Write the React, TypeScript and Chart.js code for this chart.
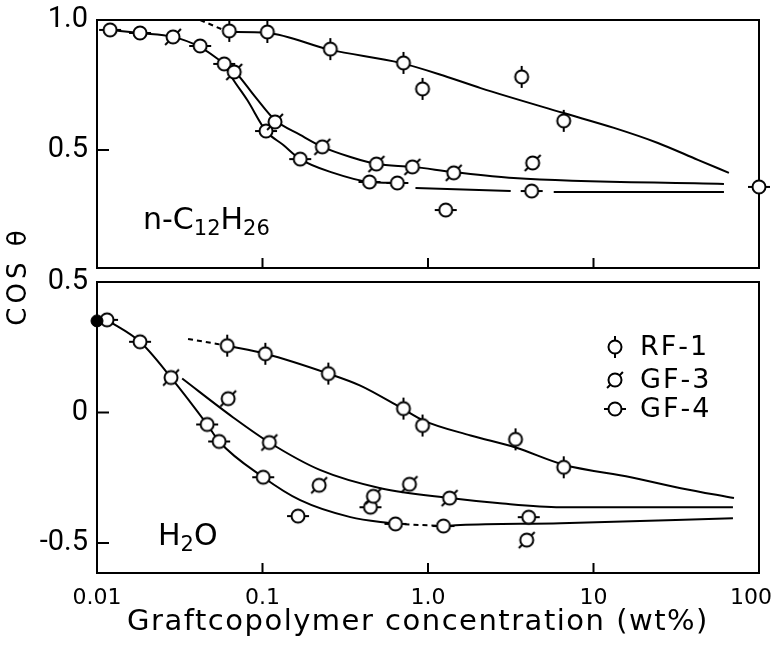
import React, { useEffect, useRef } from 'react';
import { Chart, registerables } from 'chart.js';

Chart.register(...registerables);

const FONT = "'DejaVu Sans', sans-serif";
const TICK_FONT = "Roboto, 'DejaVu Sans', sans-serif";

// ---- axes ----
const xTickValues = [0.01, 0.1, 1, 10, 100];
const xTickLabels = ['0.01', '0.1', '1.0', '10', '100'];
const xInnerTicks = [0.1, 1, 10];
const topYTickValues = [0.5, 1.0];
const topYTickLabels = ['0.5', '1.0'];
const bottomYTickValues = [-0.5, 0, 0.5];
const bottomYTickLabels = ['-0.5', '0', '0.5'];
const xTitle = 'Graftcopolymer concentration (wt%)';
const yTitle = 'COS θ';
const legendLabels = ['RF-1', 'GF-3', 'GF-4'];

// ---- top panel: n-C12H26 ----
const topRF1X = [0.063, 0.107, 0.257, 0.711, 0.927, 3.68, 6.61];
const topRF1Y = [0.958, 0.954, 0.888, 0.835, 0.735, 0.781, 0.612];
const topGF3X = [0.0288, 0.0675, 0.119, 0.23, 0.488, 0.805, 1.43, 4.29];
const topGF3Y = [0.935, 0.8, 0.608, 0.512, 0.446, 0.435, 0.412, 0.45];
const topGF4X = [0.012, 0.0182, 0.042, 0.0587, 0.105, 0.169, 0.443, 0.653, 1.28, 4.23, 100];
const topGF4Y = [0.962, 0.95, 0.9, 0.831, 0.573, 0.465, 0.377, 0.373, 0.269, 0.342, 0.358];

// fitted curves (top)
const topRF1DashX = [0.042, 0.062];
const topRF1DashY = [1.0, 0.954];
const topRF1FitX = [0.062, 0.107, 0.257, 0.683, 1.31, 2.08, 6.61, 13.3, 24.5, 42.7, 65.8];
const topRF1FitY = [0.954, 0.95, 0.885, 0.835, 0.781, 0.738, 0.642, 0.585, 0.527, 0.462, 0.412];
const topGF3FitX = [0.012, 0.0182, 0.0288, 0.042, 0.0579, 0.0684, 0.0904, 0.119, 0.169, 0.23, 0.34, 0.488, 0.805, 1.43, 3.29, 61.4];
const topGF3FitY = [0.962, 0.95, 0.935, 0.896, 0.835, 0.8, 0.704, 0.615, 0.558, 0.512, 0.473, 0.446, 0.435, 0.415, 0.392, 0.369];
const topGF4FitX = [0.0587, 0.0656, 0.0809, 0.105, 0.1336, 0.169, 0.268, 0.443, 0.653, 0.75, 0.84, 3.16, 4.2, 5.75, 61.4];
const topGF4FitY = [0.831, 0.777, 0.692, 0.573, 0.519, 0.465, 0.412, 0.377, 0.373, null, 0.354, 0.342, null, 0.338, 0.338];

// ---- bottom panel: H2O ----
const botRF1X = [0.0612, 0.104, 0.25, 0.711, 0.927, 3.38, 6.61];
const botRF1Y = [0.256, 0.225, 0.149, 0.015, -0.05, -0.103, -0.21];
const botGF3X = [0.028, 0.062, 0.11, 0.22, 0.468, 0.773, 1.35, 3.95];
const botGF3Y = [0.134, 0.053, -0.115, -0.279, -0.321, -0.275, -0.328, -0.489];
const botGF4X = [0.0115, 0.0182, 0.0463, 0.0547, 0.101, 0.164, 0.449, 0.636, 1.24, 4.06];
const botGF4Y = [0.355, 0.271, -0.046, -0.111, -0.248, -0.397, -0.363, -0.427, -0.435, -0.401];
const pureWaterX = [0.01];
const pureWaterY = [0.351];

// fitted curves (bottom)
const botRF1DashX = [0.0355, 0.0612];
const botRF1DashY = [0.282, 0.256];
const botRF1FitX = [0.0612, 0.104, 0.25, 0.39, 0.682, 0.94, 1.81, 3.38, 6.61, 16.8, 33.7, 70.6];
const botRF1FitY = [0.256, 0.225, 0.149, 0.103, 0.019, -0.031, -0.088, -0.134, -0.2, -0.248, -0.29, -0.328];
const botGF3FitX = [0.0327, 0.0665, 0.11, 0.224, 0.516, 1.35, 2.63, 6.33, 69.6];
const botGF3FitY = [0.13, -0.019, -0.115, -0.221, -0.29, -0.328, -0.347, -0.363, -0.363];
const botGF4FitX = [0.0115, 0.0182, 0.028, 0.0463, 0.0547, 0.101, 0.169, 0.34, 0.636];
const botGF4FitY = [0.355, 0.271, 0.134, -0.046, -0.111, -0.248, -0.336, -0.401, -0.427];
const botGF4DashX = [0.636, 1.24];
const botGF4DashY = [-0.427, -0.435];
const botGF4Fit2X = [1.24, 1.57, 6.33, 69.6];
const botGF4Fit2Y = [-0.435, -0.431, -0.424, -0.405];

const pts = (xs: number[], ys: (number | null)[]) => xs.map((x, i) => ({ x, y: ys[i] }));

type Kind = 'v' | 'd' | 'h';
function makeMarker(kind: Kind): HTMLCanvasElement {
  const c = document.createElement('canvas');
  c.width = 28;
  c.height = 28;
  const g = c.getContext('2d')!;
  const cx = 14, cy = 14, r = 6.5, L = 11;
  g.strokeStyle = '#000';
  g.lineWidth = 2;
  g.beginPath();
  if (kind === 'v') {
    g.moveTo(cx, cy - L);
    g.lineTo(cx, cy + L);
  } else if (kind === 'h') {
    g.moveTo(cx - L, cy);
    g.lineTo(cx + L, cy);
  } else {
    const d = L * 0.72;
    g.moveTo(cx - d, cy + d);
    g.lineTo(cx + d, cy - d);
  }
  g.stroke();
  g.beginPath();
  g.arc(cx, cy, r, 0, Math.PI * 2);
  g.fillStyle = '#fff';
  g.fill();
  g.stroke();
  return c;
}

function framePlugin(yTicks: number[]) {
  return {
    id: 'frame',
    beforeDatasetsDraw(chart: any) {
      const { ctx, chartArea: a, scales } = chart;
      ctx.save();
      ctx.strokeStyle = '#000';
      ctx.lineWidth = 2;
      ctx.strokeRect(a.left, a.top, a.right - a.left, a.bottom - a.top);
      ctx.beginPath();
      xInnerTicks.forEach((v) => {
        const px = scales.x.getPixelForValue(v);
        ctx.moveTo(px, a.bottom);
        ctx.lineTo(px, a.bottom - 10);
      });
      yTicks.forEach((v) => {
        const py = scales.y.getPixelForValue(v);
        if (py > a.top + 2 && py < a.bottom - 2) {
          ctx.moveTo(a.left, py);
          ctx.lineTo(a.left + 12, py);
        }
      });
      ctx.stroke();
      ctx.restore();
    },
  };
}

function solventPlugin(parts: [string, boolean][], x: number, y: number) {
  return {
    id: 'solvent',
    afterDatasetsDraw(chart: any) {
      const ctx = chart.ctx;
      ctx.save();
      ctx.fillStyle = '#000';
      ctx.textAlign = 'left';
      ctx.textBaseline = 'alphabetic';
      let cx = x;
      parts.forEach(([t, sub]) => {
        ctx.font = `${sub ? 21 : 30}px ${FONT}`;
        ctx.fillText(t, cx, y + (sub ? 6 : 0));
        cx += ctx.measureText(t).width;
      });
      ctx.restore();
    },
  };
}

function legendPlugin(markers: HTMLCanvasElement[]) {
  const rowsY = [107, 140, 169];
  return {
    id: 'customLegend',
    afterDatasetsDraw(chart: any) {
      const ctx = chart.ctx;
      ctx.save();
      ctx.fillStyle = '#000';
      ctx.font = `27px ${FONT}`;
      (ctx as any).letterSpacing = '2px';
      ctx.textAlign = 'left';
      ctx.textBaseline = 'middle';
      legendLabels.forEach((lab, i) => {
        const m = markers[i];
        ctx.drawImage(m, 615 - m.width / 2, rowsY[i] - m.height / 2);
        ctx.fillText(lab, 640, rowsY[i] + 1);
      });
      ctx.restore();
    },
  };
}

// x tick labels and axis title for the bottom panel
const xAxisTextPlugin = {
  id: 'xAxisText',
  afterDraw(chart: any) {
    const { ctx, scales, chartArea: a } = chart;
    ctx.save();
    ctx.fillStyle = '#000';
    ctx.textBaseline = 'alphabetic';
    ctx.textAlign = 'center';
    ctx.font = `22px ${FONT}`;
    xTickValues.forEach((v, i) => {
      const t = xTickLabels[i];
      const w = ctx.measureText(t).width;
      let px = scales.x.getPixelForValue(v);
      px = Math.min(px, chart.width - 5 - w / 2);
      ctx.fillText(t, px, a.bottom + 31);
    });
    ctx.font = `29px ${FONT}`;
    (ctx as any).letterSpacing = '1.5px';
    ctx.fillText(xTitle, 418, a.bottom + 57);
    ctx.restore();
  },
};

function pointSet(label: string, xs: number[], ys: number[], marker: any) {
  return {
    label,
    data: pts(xs, ys),
    showLine: false,
    pointStyle: marker,
    pointRadius: 6,
    clip: false,
    order: 1,
  };
}

function lineSet(label: string, xs: number[], ys: (number | null)[], dashed = false) {
  return {
    label,
    data: pts(xs, ys),
    borderColor: '#000',
    borderWidth: 2,
    borderDash: dashed ? [5, 4] : [],
    pointRadius: 0,
    cubicInterpolationMode: 'monotone',
    spanGaps: false,
    fill: false,
    order: 2,
  };
}

function yScale(min: number, max: number, vals: number[], labels: string[]) {
  return {
    min,
    max,
    grid: { display: false, drawTicks: false },
    border: { display: false },
    afterBuildTicks: (s: any) => {
      s.ticks = vals.map((v) => ({ value: v }));
    },
    afterFit: (s: any) => {
      s.width = 97;
      s.paddingTop = 0;
      s.paddingBottom = 0;
    },
    ticks: {
      callback: (_v: any, i: number) => labels[i],
      font: { family: TICK_FONT, size: 29 },
      color: '#000',
      padding: 9,
    },
  };
}

export default function App() {
  const topRef = useRef<HTMLCanvasElement>(null);
  const botRef = useRef<HTMLCanvasElement>(null);

  useEffect(() => {
    const mV = makeMarker('v');
    const mD = makeMarker('d');
    const mH = makeMarker('h');

    const top = new Chart(topRef.current!, {
      type: 'line',
      data: {
        datasets: [
          pointSet('RF-1', topRF1X, topRF1Y, mV),
          pointSet('GF-3', topGF3X, topGF3Y, mD),
          pointSet('GF-4', topGF4X, topGF4Y, mH),
          lineSet('RF-1 fit (extrapolated)', topRF1DashX, topRF1DashY, true),
          lineSet('RF-1 fit', topRF1FitX, topRF1FitY),
          lineSet('GF-3 fit', topGF3FitX, topGF3FitY),
          lineSet('GF-4 fit', topGF4FitX, topGF4FitY),
        ] as any,
      },
      options: {
        animation: false,
        responsive: false,
        events: [],
        layout: { padding: { left: 0, right: 18, top: 20, bottom: 9 } },
        plugins: { legend: { display: false }, tooltip: { enabled: false } },
        scales: {
          x: { type: 'logarithmic', min: 0.01, max: 100, display: false },
          y: yScale(0.046, 1.0, topYTickValues, topYTickLabels),
        } as any,
      },
      plugins: [framePlugin(topYTickValues), solventPlugin([['n-C', false], ['12', true], ['H', false], ['26', true]], 143, 229)],
    });

    const bot = new Chart(botRef.current!, {
      type: 'line',
      data: {
        datasets: [
          {
            label: 'pure water',
            data: pts(pureWaterX, pureWaterY),
            showLine: false,
            pointStyle: 'circle',
            pointRadius: 6,
            pointBackgroundColor: '#000',
            pointBorderColor: '#000',
            clip: false,
            order: 0,
          },
          pointSet('RF-1', botRF1X, botRF1Y, mV),
          pointSet('GF-3', botGF3X, botGF3Y, mD),
          pointSet('GF-4', botGF4X, botGF4Y, mH),
          lineSet('RF-1 fit (extrapolated)', botRF1DashX, botRF1DashY, true),
          lineSet('RF-1 fit', botRF1FitX, botRF1FitY),
          lineSet('GF-3 fit', botGF3FitX, botGF3FitY),
          lineSet('GF-4 fit', botGF4FitX, botGF4FitY),
          lineSet('GF-4 fit (dashed)', botGF4DashX, botGF4DashY, true),
          lineSet('GF-4 fit (cont.)', botGF4Fit2X, botGF4Fit2Y),
        ] as any,
      },
      options: {
        animation: false,
        responsive: false,
        events: [],
        layout: { padding: { left: 0, right: 18, top: 42, bottom: 0 } },
        plugins: { legend: { display: false }, tooltip: { enabled: false } },
        scales: {
          x: {
            type: 'logarithmic',
            min: 0.01,
            max: 100,
            grid: { display: false, drawTicks: false },
            border: { display: false },
            afterBuildTicks: (s: any) => {
              s.ticks = xTickValues.map((v) => ({ value: v }));
            },
            afterFit: (s: any) => {
              s.height = 74;
              s.paddingLeft = 0;
              s.paddingRight = 0;
            },
            ticks: { display: false },
            title: { display: false, text: xTitle },
          },
          y: yScale(-0.615, 0.5, bottomYTickValues, bottomYTickLabels),
        } as any,
      },
      plugins: [
        framePlugin(bottomYTickValues),
        solventPlugin([['H', false], ['2', true], ['O', false]], 158, 305),
        legendPlugin([mV, mD, mH]),
        xAxisTextPlugin,
      ],
    });

    return () => {
      top.destroy();
      bot.destroy();
    };
  }, []);

  return (
    <div style={{ position: 'absolute', left: 0, top: 0, width: 777, height: 647, background: '#fff' }}>
      <canvas ref={topRef} width={777} height={277} style={{ position: 'absolute', left: 0, top: 0, width: 777, height: 277 }} />
      <canvas ref={botRef} width={777} height={407} style={{ position: 'absolute', left: 0, top: 240, width: 777, height: 407 }} />
      <div
        style={{
          position: 'absolute',
          left: 17 - 60,
          top: 276 - 16,
          width: 120,
          height: 32,
          lineHeight: '32px',
          textAlign: 'center',
          transform: 'rotate(-90deg)',
          fontFamily: FONT,
          fontSize: 26,
          letterSpacing: '4px',
          color: '#000',
          whiteSpace: 'nowrap',
        }}
      >
        {yTitle}
      </div>
    </div>
  );
}
